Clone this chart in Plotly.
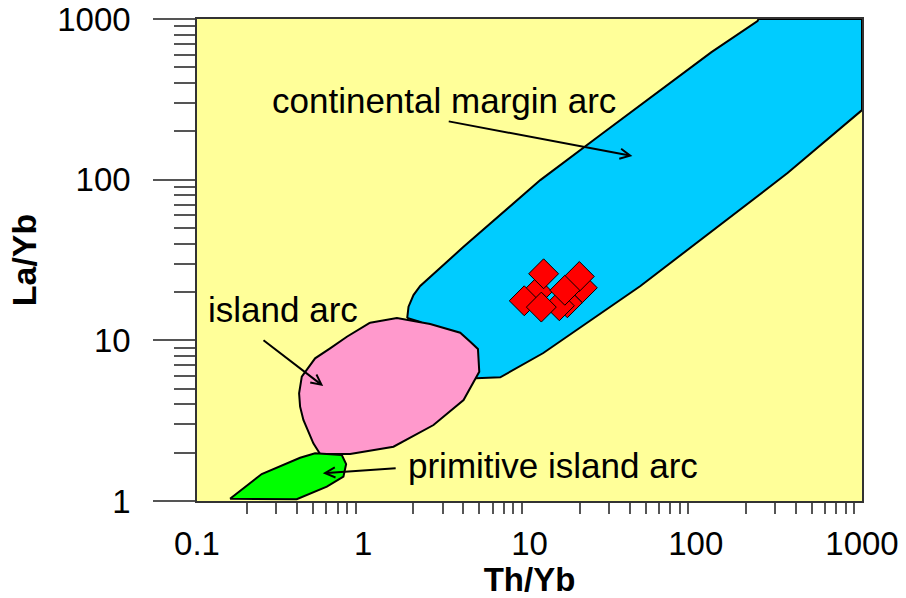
import numpy as np
import plotly.graph_objects as go

# Th/Yb vs La/Yb tectonic discrimination fields (vertices in data units)
cma_th = [1.838, 1.872, 2.005, 2.201, 3.995, 11.61, 26.68, 124.3, 235.2, 238.5,
          1000, 1000, 356.6, 46.47, 12.11, 6.67, 4.783, 3.83, 2.201]
cma_la = [13.77, 16.19, 19.14, 21.78, 38.07, 99.4, 189.5, 622.3, 970.3, 1000,
          1000, 271.0, 109.9, 21.78, 8.34, 5.886, 5.802, 8.70, 13.0]

ia_th = [1.100, 1.593, 2.527, 3.83, 4.402, 4.897, 4.987, 4.717, 4.012, 2.646,
         1.520, 0.834, 0.550, 0.501, 0.4365, 0.417, 0.4113, 0.4269, 0.5133,
         0.6319, 0.797]
ia_la = [12.87, 13.77, 12.63, 11.15, 9.80, 8.83, 6.376, 5.719, 4.251, 2.971,
         2.177, 1.961, 1.961, 2.286, 3.192, 3.863, 4.679, 5.937, 7.727,
         8.914, 10.53]

pia_th = [0.158, 0.245, 0.417, 0.513, 0.743, 0.789, 0.760, 0.604, 0.398]
pia_la = [1.033, 1.472, 1.859, 1.981, 1.932, 1.699, 1.416, 1.227, 1.025]

# Sample compositions
sample_th = [11.14, 20.79, 16.89, 15.12, 9.30, 12.16, 19.94, 16.31, 11.78]
sample_la = [20.05, 21.24, 17.13, 16.41, 17.63, 25.96, 24.98, 20.49, 16.10]

# Field labels and their leader arrows (tail -> tip)
field_names = ["continental margin arc", "island arc", "primitive island arc"]
label_th = [3.049, 0.3295, 13.81]
label_la = [312.8, 15.66, 1.675]
arrow_tail_th = [3.200, 0.246, 1.600]
arrow_tail_la = [231.5, 10.19, 1.604]
arrow_tip_th = [41.57, 0.574, 0.571]
arrow_tip_la = [140.3, 5.195, 1.487]

x_ticks = [0.1, 1, 10, 100, 1000]
x_ticktext = ["0.1", "1", "10", "100", "1000"]
y_ticks = [1, 10, 100, 1000]
y_ticktext = ["1", "10", "100", "1000"]

FONT = "Liberation Sans, Arial, sans-serif"

fig = go.Figure()

fields = [
    (cma_th, cma_la, "#00CCFF"),
    (ia_th, ia_la, "#FF99CC"),
    (pia_th, pia_la, "#00FF00"),
]
for th, la, color in fields:
    fig.add_trace(go.Scatter(
        x=th + th[:1], y=la + la[:1], mode="lines", fill="toself",
        fillcolor=color, line=dict(color="black", width=2),
        hoverinfo="skip", showlegend=False,
    ))

fig.add_trace(go.Scatter(
    x=sample_th, y=sample_la, mode="markers",
    marker=dict(symbol="diamond", size=23, color="#FF0000",
                line=dict(color="black", width=1)),
    showlegend=False,
))

for name, lx, ly in zip(field_names, label_th, label_la):
    fig.add_annotation(
        x=np.log10(lx), y=np.log10(ly), xref="x", yref="y", text=name,
        showarrow=False, xanchor="center", yanchor="middle",
        font=dict(family=FONT, size=35, color="black"),
    )

for tx, ty, hx, hy in zip(arrow_tail_th, arrow_tail_la, arrow_tip_th, arrow_tip_la):
    fig.add_annotation(
        x=np.log10(hx), y=np.log10(hy), ax=np.log10(tx), ay=np.log10(ty),
        xref="x", yref="y", axref="x", ayref="y", text="",
        showarrow=True, arrowhead=5, arrowsize=1, arrowwidth=2,
        arrowcolor="black", standoff=0, startstandoff=0,
    )

minor_x = [m * d for d in [0.1, 1, 10, 100] for m in range(2, 10)]
minor_y = [m * d for d in [1, 10, 100] for m in range(2, 10)]

fig.update_xaxes(
    type="log", range=[-1, 3], showgrid=False, zeroline=False, automargin=False,
    tickmode="array", tickvals=x_ticks, ticktext=x_ticktext,
    ticks="outside", ticklen=0, ticklabelstandoff=13,
    tickfont=dict(family=FONT, size=33, color="black"),
    showline=True, linecolor="#333333", linewidth=1.5, mirror=True,
    minor=dict(tickmode="array", tickvals=minor_x, ticks="outside",
               ticklen=11, tickcolor="#555555", tickwidth=1.5, showgrid=False),
    title=dict(text="<b>Th/Yb</b>", font=dict(family=FONT, size=33, color="black"),
               standoff=9),
)
fig.update_yaxes(
    type="log", range=[0, 3], showgrid=False, zeroline=False, automargin=False,
    tickmode="array", tickvals=y_ticks, ticktext=y_ticktext,
    ticks="outside", ticklen=42, tickcolor="#555555", tickwidth=1.5,
    ticklabelstandoff=16,
    tickfont=dict(family=FONT, size=33, color="black"),
    showline=True, linecolor="#333333", linewidth=1.5, mirror=True,
    minor=dict(tickmode="array", tickvals=minor_y, ticks="outside",
               ticklen=21, tickcolor="#555555", tickwidth=1.5, showgrid=False),
    title=dict(text="<b>La/Yb</b>", font=dict(family=FONT, size=34, color="black"),
               standoff=10),
)

fig.update_layout(
    width=906, height=598,
    margin=dict(l=197, r=44, t=19, b=97),
    paper_bgcolor="white", plot_bgcolor="#FFFF99",
    showlegend=False,
)

fig.write_html("out.html")
